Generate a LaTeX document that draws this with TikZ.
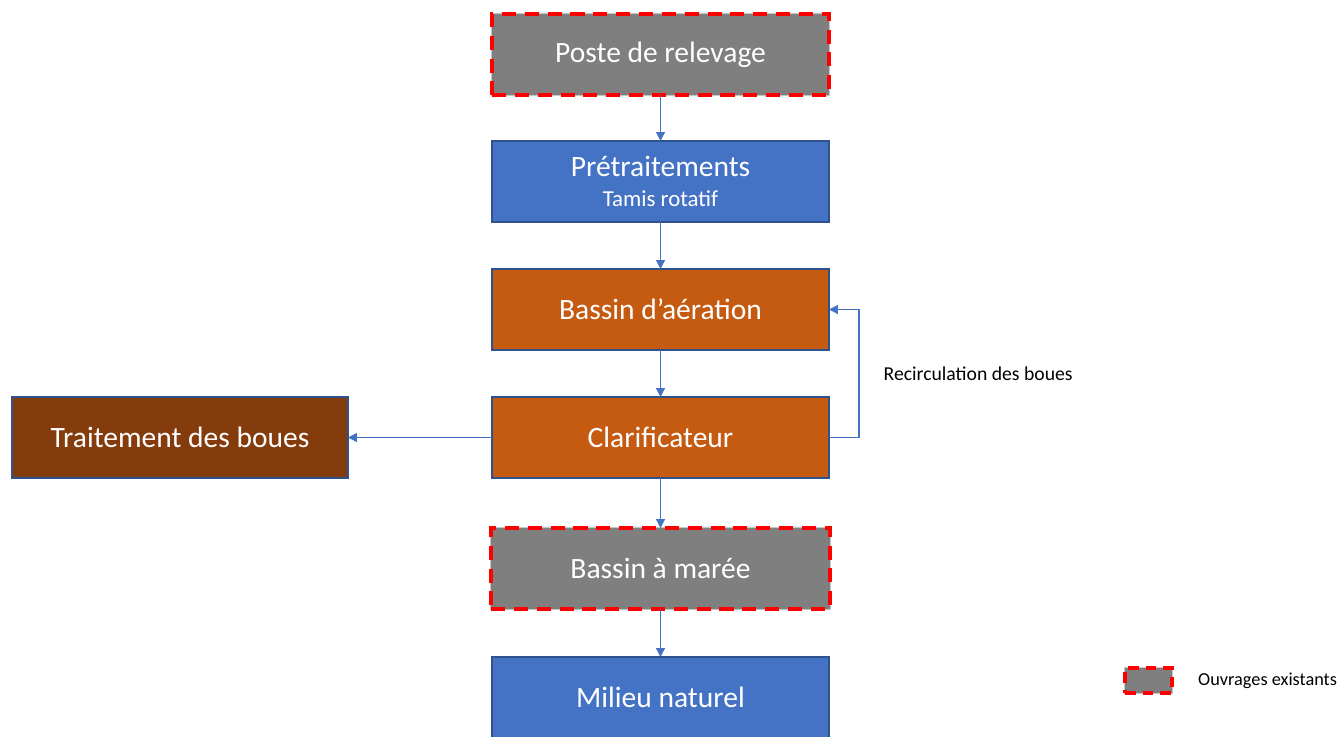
\documentclass[tikz,border=0pt]{standalone}
\usepackage{fontspec}
\setmainfont{Carlito}
\usetikzlibrary{positioning,arrows.meta}
\definecolor{boxgray}{HTML}{7F7F7F}
\definecolor{boxblue}{HTML}{4472C4}
\definecolor{boxedge}{HTML}{2F528F}
\definecolor{boxorange}{HTML}{C55A11}
\definecolor{boxbrown}{HTML}{843C0C}
\begin{document}
\begin{tikzpicture}[
stage/.style={rectangle, draw=boxedge, line width=0.8pt, outer sep=0pt, text=white, align=center, minimum width=6.74cm, minimum height=1.62cm, font=\fontsize{16.8}{20}\selectfont},
existing/.style={stage, fill=boxgray, draw=red, line width=2.2pt, dash pattern=on 8pt off 5pt, preaction={draw=boxgray!45, line width=0.6pt, solid}},
water/.style={stage, fill=boxblue},
bio/.style={stage, fill=boxorange},
sludge/.style={stage, fill=boxbrown},
note/.style={font=\fontsize{11.2}{13}\selectfont, text=black},
flow/.style={draw=boxblue, line width=0.7pt, -{Triangle[length=5pt,width=5pt]}},
node distance=0.94cm,
]
\useasboundingbox (0,0) rectangle (26.8,-14.72);
\clip (0,0) rectangle (26.8,-14.72);
\node[existing] (poste) at (13.21,-1.09) {Poste de relevage};
\node[water, below=0.92cm of poste] (pretrait) {Prétraitements\\[-3pt]{\fontsize{13}{15}\selectfont Tamis rotatif}};
\node[bio, below=of pretrait] (aeration) {Bassin d’aération};
\node[bio, below=of aeration] (clarif) {Clarificateur};
\node[sludge, left=2.88cm of clarif, minimum width=6.72cm] (boues) {Traitement des boues};
\node[existing, below=1.0cm of clarif, minimum width=6.78cm] (maree) {Bassin à marée};
\node[water, below=0.96cm of maree] (milieu) {Milieu naturel};
% fleches
\draw[flow] (poste) -- (pretrait);
\draw[flow] (pretrait) -- (aeration);
\draw[flow] (aeration) -- (clarif);
\draw[flow] (clarif) -- (maree);
\draw[flow] (maree) -- (milieu);
\draw[flow] (clarif) -- (boues);
\draw[flow] (clarif.east) -- ++(0.6,0) |- (aeration.east);
\node[note, anchor=west] (recirc) at (17.55,-7.48) {Recirculation des boues};
% legende
\node[existing, minimum width=0.94cm, minimum height=0.5cm, line width=1.8pt, dash pattern=on 6pt off 4pt] (legende) at (22.97,-13.61) {};
\node[note, font=\fontsize{10.4}{12}\selectfont, right=0.4cm of legende] (legtext) {Ouvrages existants};
\end{tikzpicture}
\end{document}
